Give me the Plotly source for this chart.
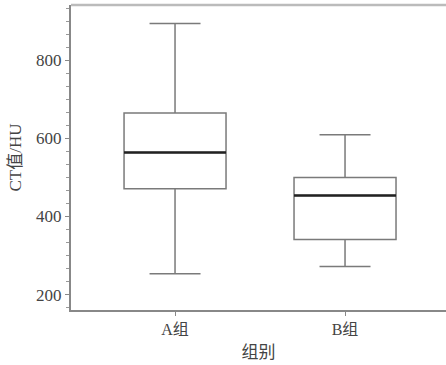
import plotly.graph_objects as go

groups = ["A组", "B组"]
positions = [0, 1]
lower = [254, 272]
q1 = [471, 341]
median = [564, 454]
q3 = [665, 500]
upper = [894, 609]

box_width = 0.6
font_family = "Liberation Serif, DejaVu Serif, Noto Sans CJK SC, serif"

fig = go.Figure()
fig.add_trace(go.Box(
    x=positions, q1=q1, median=median, q3=q3,
    lowerfence=lower, upperfence=upper,
    width=box_width, whiskerwidth=0.5,
    fillcolor="rgba(255,255,255,0)",
    line=dict(color="#7a7a7a", width=1.5),
    boxpoints=False, hoverinfo="skip", showlegend=False,
))
for p, m in zip(positions, median):
    fig.add_trace(go.Scatter(
        x=[p - box_width / 2, p + box_width / 2], y=[m, m],
        mode="lines", line=dict(color="#222222", width=2.5),
        showlegend=False, hoverinfo="skip",
    ))

fig.update_layout(
    width=446, height=365,
    margin=dict(l=71, r=0, t=5, b=55),
    paper_bgcolor="white", plot_bgcolor="white",
    font=dict(family=font_family, size=16, color="#444444"),
    shapes=[dict(type="line", xref="paper", yref="paper", x0=0, x1=1, y0=1, y1=1,
                 line=dict(color="#bbbbbb", width=2.5))],
)
fig.update_xaxes(
    range=[-0.612, 1.594], tickvals=positions, ticktext=groups,
    showgrid=False, zeroline=False, showline=True, linecolor="#888888", linewidth=2,
    ticks="outside", ticklen=4, tickcolor="#888888",
    title=dict(text="组别", font=dict(size=17), standoff=9),
    tickfont=dict(size=16),
)
fig.update_yaxes(
    range=[161, 941], tickvals=[200, 400, 600, 800],
    showgrid=False, zeroline=False, showline=True, linecolor="#888888", linewidth=2,
    ticks="outside", ticklen=4, tickcolor="#888888",
    minor=dict(dtick=200 / 6, tick0=200, ticks="outside", ticklen=3, tickcolor="#999999", showgrid=False),
    title=dict(text="CT值/HU", font=dict(size=17), standoff=10),
    tickfont=dict(size=17),
)
fig.write_html("out.html")
